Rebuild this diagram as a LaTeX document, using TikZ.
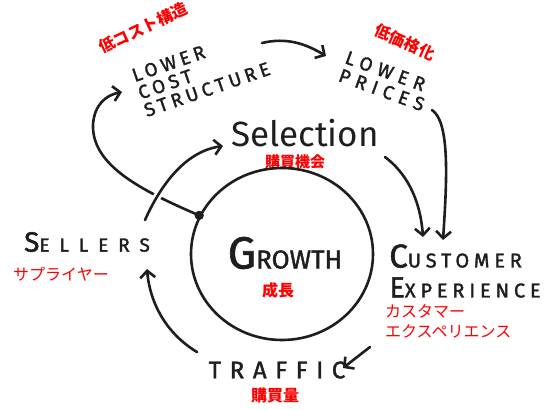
\documentclass[tikz,border=0pt]{standalone}
\usepackage{fontspec}
\usetikzlibrary{arrows.meta,shapes.geometric}
\setmainfont{Fira Sans}
\newfontfamily\hand{Fira Sans}[FakeBold=1.6]
\newfontfamily\handg{Fira Sans}[FakeBold=1.5]
\newfontfamily\handl{Fira Sans}
\newfontfamily\jp{Noto Sans CJK JP}
\definecolor{ink}{HTML}{1E1E1E}
\newcommand\hw[3]{\hand\fontsize{#1}{#2}\selectfont\addfontfeature{LetterSpace=#3}}
\newcommand\firstcap[2]{{\fontsize{#1}{#1}\selectfont #2}}
\begin{document}
\begin{tikzpicture}[x=1pt,y=-1pt,
  txt/.style={text=ink, inner sep=0pt},
  jpb/.style={text=red, inner sep=0pt, font=\jp\bfseries\fontsize{16}{19}\selectfont},
  jpr/.style={text=red, inner sep=0pt, font=\jp\fontsize{16}{20}\selectfont},
  stroke/.style={draw=ink, line width=2.6pt, line cap=round, line join=round},
  arr/.style={stroke, -{Straight Barb[length=7pt,width=15pt]}}]
\useasboundingbox (0,0) rectangle (550,410);
\fill[white] (0,0) rectangle (550,410);

% text nodes
\node[txt, rotate=19, align=left, font=\hw{19}{18.5}{22}] (lcs) at (201,72) {LOWER\\COST\\STRUCTURE};
\node[txt, rotate=-20, align=left, font=\hw{19}{19}{32}] (lp) at (385,81) {LOWER\\PRICES};
\node[txt, font=\handl\fontsize{35}{35}\selectfont] (sel) at (305,133) {Selection};
\node[txt, font=\hw{19}{19}{52}] (sellers) at (87,242) {\firstcap{28}{S}ELLERS};
\node[txt, font=\handg\fontsize{26}{26}\selectfont] (growth) at (285,253) {\firstcap{45}{G}ROWTH};
\node[txt, align=left, font=\hw{20}{30}{24}] (ce) at (465,271) {\firstcap{33}{C}USTOMER\\\firstcap{29}{E}XPERIENCE};
\node[txt, font=\hw{24}{24}{36}] (traffic) at (277,370) {TRAFFIC};

% red labels
\node[jpb, rotate=25] (jlcs) at (143,28) {低コスト構造};
\node[jpb, rotate=-24] (jlp) at (405,42) {低価格化};
\node[jpb, font=\jp\bfseries\fontsize{15}{18}\selectfont] (jsel) at (295,162) {購買機会};
\node[jpr] (jsellers) at (61,274) {サプライヤー};
\node[jpb] (jgrowth) at (278,290) {成長};
\node[jpr, align=left, anchor=north west] (jce) at (385,304) {カスタマー\\エクスペリエンス};
\node[jpb] (jtraffic) at (275,395) {購買量};

% flywheel
\node[stroke, ellipse, minimum width=182pt, minimum height=172pt, inner sep=0pt] (wheel) at (282,254) {};
\node[circle, fill=ink, inner sep=0pt, minimum size=9pt] (hub) at (wheel.155) {};

% connectors
\draw[arr] ([shift={(61,-29)}]lcs.center) .. controls +(25,-6) and +(-20,-12) .. ([shift={(-59,-25)}]lp.center);
\draw[arr] ([shift={(47,29)}]lp.center) .. controls +(18,12) and +(4,-60) .. ([shift={(-22,-31)}]ce.center);
\draw[arr] ([shift={(80,24)}]sel.center) .. controls +(20,15) and +(-3,-40) .. ([shift={(-42,-34)}]ce.center);
\draw[arr] ([shift={(-95,76)}]ce.center) -- ([shift={(66,-2)}]traffic.center);
\draw[arr] ([shift={(-80,-18)}]traffic.center) .. controls +(-30,-18) and +(3,35) .. ([shift={(60,27)}]sellers.center);
\draw[arr] (hub.center) .. controls (140,190) and (92,165) .. (93,125) .. controls (94,105) and (106,95) .. ([shift={(-79,20)}]lcs.center);
\draw[draw=white, line width=8pt] ([shift={(58,-22)}]sellers.center) .. controls +(18,-40) and +(-35,5) .. ([shift={(-82,13)}]sel.center);
\draw[arr] ([shift={(58,-22)}]sellers.center) .. controls +(18,-40) and +(-35,5) .. ([shift={(-82,13)}]sel.center);
\node[circle, fill=ink, inner sep=0pt, minimum size=9pt] at (hub) {};
\end{tikzpicture}
\end{document}
